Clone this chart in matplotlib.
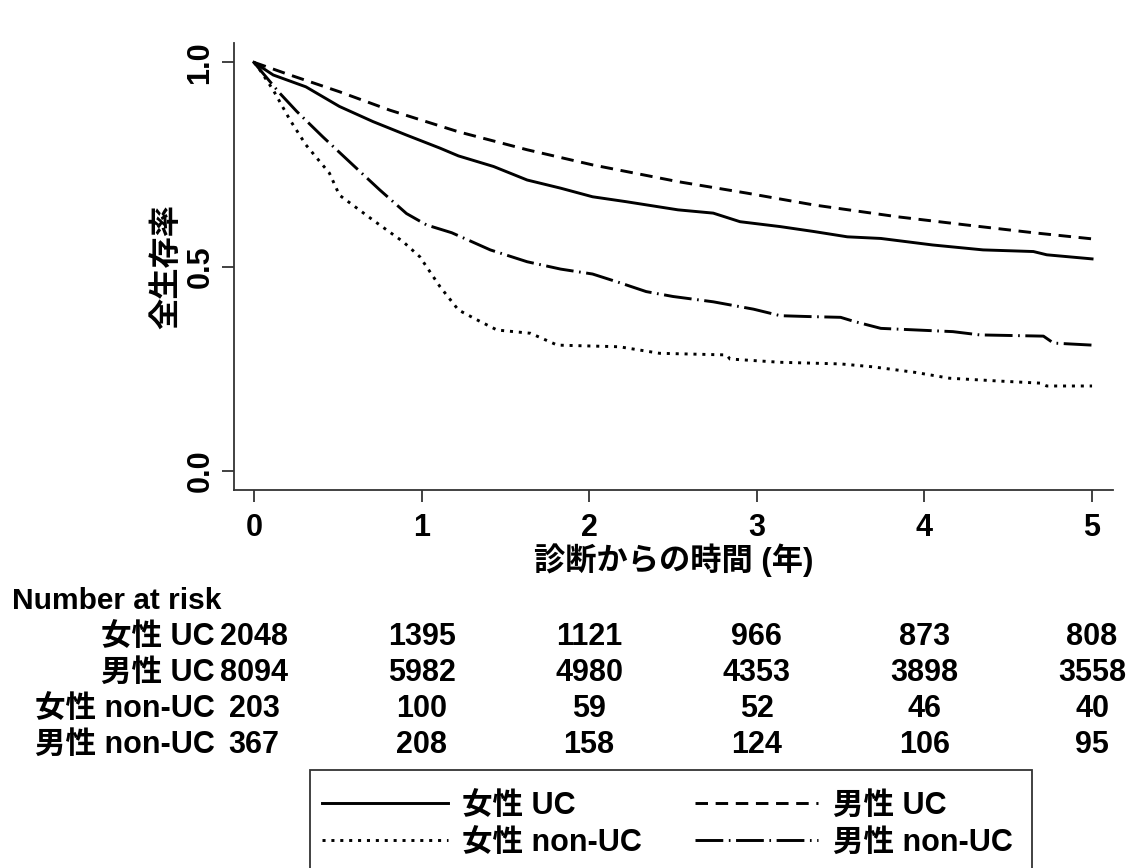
import matplotlib
matplotlib.use("Agg")
import matplotlib.pyplot as plt
from matplotlib.lines import Line2D
from matplotlib.patches import Rectangle
from matplotlib.transforms import blended_transform_factory

plt.rcParams['font.family'] = ['Liberation Sans', 'Noto Sans CJK JP', 'DejaVu Sans']
plt.rcParams['font.weight'] = 'bold'
plt.rcParams['axes.labelweight'] = 'bold'
plt.rcParams['lines.scale_dashes'] = False

# survival curves (time in years, survival)
f_uc_t = [0, 0.115, 0.31, 0.51, 0.71, 0.91, 1.11, 1.22, 1.43, 1.63, 1.83, 2.02, 2.22, 2.53,
          2.74, 2.90, 3.14, 3.34, 3.54, 3.74, 4.05, 4.35, 4.65, 4.73, 5.0]
f_uc_s = [1.0, 0.969, 0.94, 0.892, 0.855, 0.822, 0.79, 0.771, 0.745, 0.712, 0.692, 0.671, 0.659, 0.639,
          0.631, 0.61, 0.598, 0.586, 0.573, 0.569, 0.553, 0.541, 0.537, 0.529, 0.519]

m_uc_t = [0, 0.215, 0.51, 0.81, 1.22, 1.63, 2.02, 2.53, 2.94, 3.34, 3.84, 4.25, 4.65, 5.0]
m_uc_s = [1.0, 0.969, 0.928, 0.883, 0.83, 0.786, 0.749, 0.708, 0.68, 0.651, 0.622, 0.602, 0.583, 0.568]

f_non_t = [0, 0.036, 0.115, 0.215, 0.31, 0.45, 0.51, 0.71, 0.89, 0.99, 1.11, 1.22, 1.33, 1.45,
           1.65, 1.81, 2.18, 2.42, 2.82, 2.84, 3.14, 3.50, 3.69, 3.95, 4.15, 4.45, 4.69, 4.73, 5.0]
f_non_s = [1.0, 0.981, 0.932, 0.859, 0.798, 0.729, 0.675, 0.614, 0.561, 0.524, 0.451, 0.394, 0.37, 0.345,
           0.337, 0.308, 0.304, 0.288, 0.284, 0.274, 0.266, 0.262, 0.255, 0.241, 0.227, 0.22, 0.215, 0.208, 0.208]

m_non_t = [0, 0.05, 0.155, 0.255, 0.41, 0.59, 0.75, 0.91, 1.03, 1.18, 1.41, 1.63, 1.83, 2.02, 2.18,
           2.34, 2.50, 2.74, 2.98, 3.14, 3.30, 3.50, 3.58, 3.74, 4.17, 4.33, 4.71, 4.77, 5.0]
m_non_s = [1.0, 0.975, 0.924, 0.88, 0.818, 0.749, 0.688, 0.63, 0.602, 0.583, 0.541, 0.512, 0.494, 0.482, 0.461,
           0.439, 0.427, 0.414, 0.396, 0.38, 0.378, 0.376, 0.366, 0.349, 0.341, 0.333, 0.33, 0.313, 0.308]

group_labels = ["女性 UC", "男性 UC", "女性 non-UC", "男性 non-UC"]
risk_times = [0, 1, 2, 3, 4, 5]
risk_f_uc = [2048, 1395, 1121, 966, 873, 808]
risk_m_uc = [8094, 5982, 4980, 4353, 3898, 3558]
risk_f_non = [203, 100, 59, 52, 46, 40]
risk_m_non = [367, 208, 158, 124, 106, 95]

styles = [
    dict(linestyle='-'),
    dict(linestyle=(0, (9, 5.5))),
    dict(linestyle=(0, (2.2, 4.2))),
    dict(linestyle=(0, (20, 4, 1.2, 4))),
]
curves = [(f_uc_t, f_uc_s), (m_uc_t, m_uc_s), (f_non_t, f_non_s), (m_non_t, m_non_s)]

W, H = 1133, 868
LW = 2.1
FS = 22
fig = plt.figure(figsize=(W / 100, H / 100), dpi=100)
ax = fig.add_axes([234 / W, 1 - 490 / H, (1113 - 234) / W, (490 - 42.7) / H])

for (t, s), st in zip(curves, styles):
    ax.plot(t, s, color='black', linewidth=LW, **st)

ax.set_xlim(-0.119, 5.125)
ax.set_ylim(-0.0465, 1.048)
for side in ['top', 'right']:
    ax.spines[side].set_visible(False)
for side in ['left', 'bottom']:
    ax.spines[side].set_color('#333333')
    ax.spines[side].set_linewidth(1.3)

ax.set_xticks([0, 1, 2, 3, 4, 5])
ax.set_xticklabels([str(v) for v in range(6)], fontsize=22)
ax.set_yticks([0.0, 0.5, 1.0])
ax.set_yticklabels(["0.0", "0.5", "1.0"], rotation=90, va='center', fontsize=22)
ax.tick_params(axis='both', length=8.5, width=1.3, color='#333333')
ax.tick_params(axis='x', pad=8)
ax.tick_params(axis='y', pad=5)
ax.set_xlabel("診断からの時間 (年)", fontsize=22.5, fontweight='bold', labelpad=0)
ax.set_ylabel("全生存率", fontsize=22.5, fontweight='bold', labelpad=2)

# number at risk table
trans = blended_transform_factory(ax.transData, fig.transFigure)
fig.text(12 / W, 1 - 609 / H, "Number at risk", fontsize=21.5, ha='left', va='baseline')
rows = [risk_f_uc, risk_m_uc, risk_f_non, risk_m_non]
row_base = [645, 681, 717, 753]
for name, counts, yb in zip(group_labels, rows, row_base):
    fig.text(215 / W, 1 - yb / H, name, fontsize=FS, ha='right', va='baseline')
    for t, n in zip(risk_times, counts):
        ax.text(t, 1 - yb / H, str(n), transform=trans, fontsize=FS,
                ha='center', va='baseline', clip_on=False)

# legend box, bottom edge runs off the figure
fig.add_artist(Rectangle((310 / W, -0.05), (1032 - 310) / W, 0.05 + 1 - 770 / H,
                         transform=fig.transFigure, fill=False, edgecolor='#333333', linewidth=1.3))
leg_pos = [(322, 448, 462, 803), (695, 818, 833, 803), (322, 448, 462, 840), (695, 818, 833, 840)]
for name, st, (x0, x1, xt, y) in zip(group_labels, styles, leg_pos):
    fig.add_artist(Line2D([x0 / W, x1 / W], [1 - y / H, 1 - y / H], transform=fig.transFigure,
                          color='black', linewidth=LW, **st))
    fig.text(xt / W, 1 - (y + 11) / H, name, fontsize=FS, ha='left', va='baseline')

fig.savefig("out.png", dpi=100)
